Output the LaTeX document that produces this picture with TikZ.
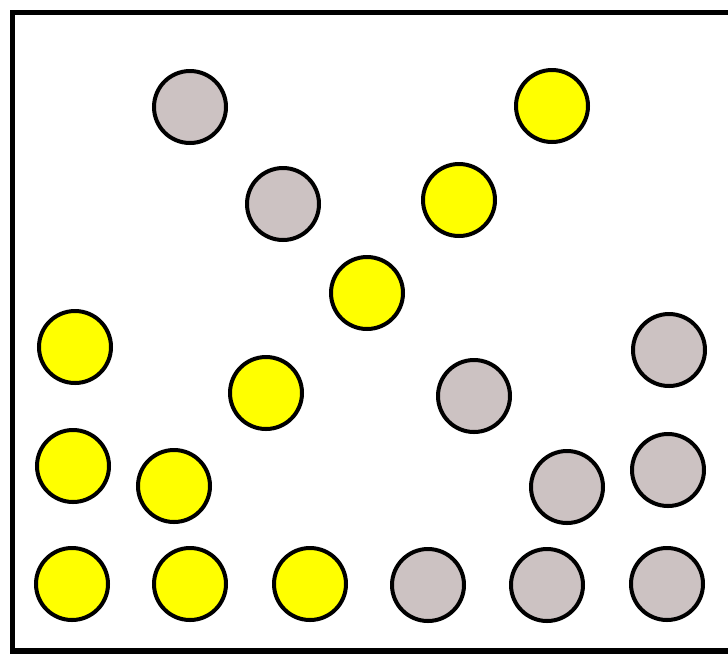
\documentclass[tikz,border=0pt]{standalone}
\definecolor{ballgray}{RGB}{204,194,194}
\definecolor{ballyellow}{RGB}{255,255,0}
\tikzset{
  ball/.style={circle, draw=black, line width=4pt, minimum size=72pt, inner sep=0pt},
  grayball/.style={ball, fill=ballgray},
  yellowball/.style={ball, fill=ballyellow},
  frameline/.style={line width=5.5pt, line cap=rect}
}
\begin{document}
\begin{tikzpicture}[x=1pt,y=-1pt]
\useasboundingbox (0,0) rectangle (728,657);
\coordinate (tr) at (740,12.5);
\coordinate (tl) at (12.5,12.5);
\coordinate (bl) at (12.5,651);
\coordinate (br) at (740,651);
\begin{scope}
\clip (0,0) rectangle (728,657);
\draw[frameline] (tr) -- (tl) -- (bl) -- (br);
\end{scope}
\node[grayball] (g1) at (190,107) {};
\node[yellowball] (y1) at (552,106) {};
\node[grayball] (g2) at (283,204) {};
\node[yellowball] (y2) at (459,200) {};
\node[yellowball] (y3) at (367,293) {};
\node[yellowball] (y4) at (75,347) {};
\node[grayball] (g3) at (669,350) {};
\node[yellowball] (y5) at (266,393) {};
\node[grayball] (g4) at (474,396) {};
\node[yellowball] (y6) at (73,466) {};
\node[yellowball] (y7) at (174,486) {};
\node[grayball] (g5) at (567,487) {};
\node[grayball] (g6) at (668,470) {};
\node[yellowball] (y8) at (72,584) {};
\node[yellowball] (y9) at (190,584) {};
\node[yellowball] (y10) at (310,584) {};
\node[grayball] (g7) at (428,585) {};
\node[grayball] (g8) at (547,585) {};
\node[grayball] (g9) at (667,584) {};
\end{tikzpicture}
\end{document}
